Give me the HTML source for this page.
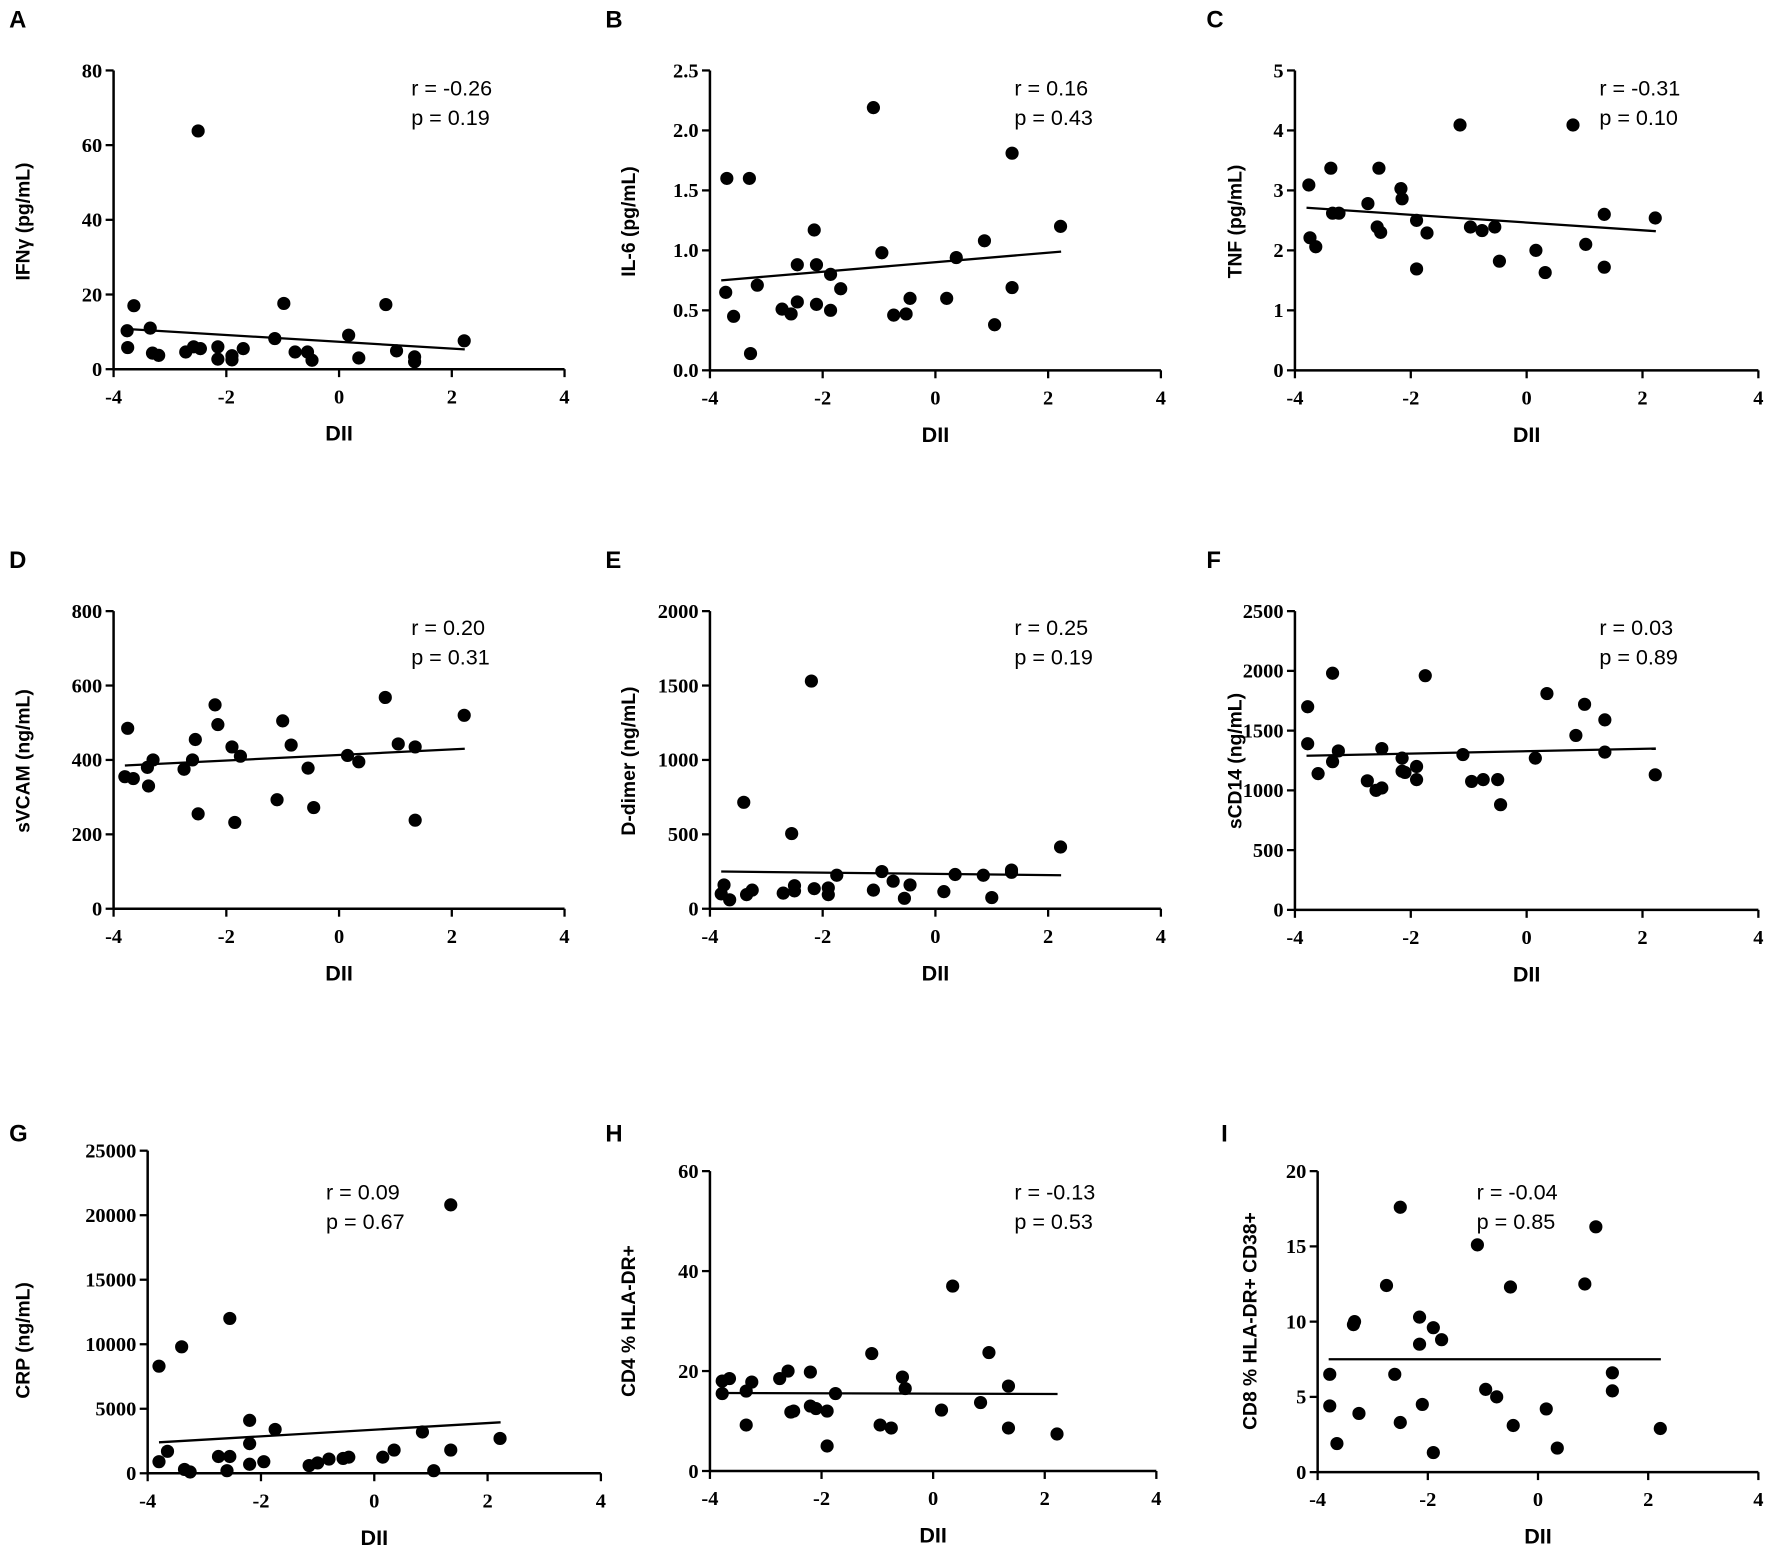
<!DOCTYPE html>
<html><head><meta charset="utf-8">
<style>
html,body{margin:0;padding:0;background:#fff;}
svg{display:block;}
.tick{font-family:"Liberation Serif",serif;font-weight:bold;font-size:18px;}
.ttl{font-family:"Liberation Sans",sans-serif;font-weight:bold;font-size:17px;}
.stat{font-family:"Liberation Sans",sans-serif;font-size:19px;}
.let{font-family:"Liberation Sans",sans-serif;font-weight:bold;font-size:21px;}
</style></head>
<body>
<svg id="fig" width="1772" height="1546" viewBox="0 0 1560 1361" xmlns="http://www.w3.org/2000/svg"></svg>
<script>
const xTicks=[-4,-2,0,2,4];
const aX=[-3.76,-3.75,-3.64,-3.35,-3.31,-3.2,-2.72,-2.58,-2.5,-2.46,-2.15,-2.15,-1.9,-1.9,-1.7,-1.14,-0.98,-0.78,-0.56,-0.48,0.17,0.35,0.83,1.02,1.34,1.34,2.22];
const aY=[10.3,5.8,17,11,4.3,3.7,4.6,6,63.8,5.5,6,2.7,3.6,2.5,5.5,8.2,17.6,4.6,4.6,2.4,9.1,3,17.3,4.9,3.3,2,7.6];
const aFit=[10.8,5.3];
const bX=[-3.72,-3.7,-3.58,-3.3,-3.28,-3.16,-2.72,-2.56,-2.45,-2.45,-2.15,-2.11,-2.11,-1.86,-1.86,-1.68,-1.1,-0.95,-0.74,-0.52,-0.45,0.2,0.37,0.87,1.05,1.36,1.36,2.22];
const bY=[0.65,1.6,0.45,1.6,0.14,0.71,0.51,0.47,0.88,0.57,1.17,0.88,0.55,0.8,0.5,0.68,2.19,0.98,0.46,0.47,0.6,0.6,0.94,1.08,0.38,1.81,0.69,1.2];
const bFit=[0.75,0.99];
const cX=[-3.76,-3.74,-3.64,-3.38,-3.35,-3.24,-2.74,-2.58,-2.55,-2.52,-2.17,-2.15,-1.9,-1.9,-1.72,-1.15,-0.97,-0.77,-0.55,-0.47,0.16,0.32,0.8,1.02,1.34,1.34,2.22];
const cY=[3.09,2.21,2.06,3.37,2.62,2.62,2.78,2.39,3.37,2.3,3.03,2.86,2.5,1.69,2.29,4.09,2.39,2.33,2.39,1.82,2.0,1.63,4.09,2.1,2.6,1.72,2.54];
const cFit=[2.71,2.32];
const dX=[-3.75,-3.8,-3.65,-3.4,-3.38,-3.3,-2.75,-2.6,-2.55,-2.5,-2.2,-2.15,-1.9,-1.85,-1.75,-1.0,-0.85,-0.55,-0.45,-1.1,0.15,0.35,0.82,1.05,1.35,1.35,2.22];
const dY=[485,355,350,380,330,400,375,400,455,255,548,495,435,232,410,505,440,378,272,293,412,395,568,443,435,238,520];
const dFit=[385,430];
const eX=[-3.75,-3.8,-3.65,-3.4,-3.35,-3.25,-2.7,-2.55,-2.5,-2.5,-2.2,-2.15,-1.9,-1.9,-1.75,-1.1,-0.95,-0.75,-0.55,-0.45,0.15,0.35,0.85,1.0,1.35,1.35,2.22];
const eY=[160,100,60,715,95,125,105,505,120,155,1530,135,140,95,225,125,250,185,70,160,115,230,225,75,245,260,415];
const eFit=[250,225];
const fX=[-3.78,-3.78,-3.6,-3.35,-3.35,-3.25,-2.75,-2.6,-2.5,-2.5,-2.15,-2.15,-2.1,-1.9,-1.9,-1.75,-1.1,-0.95,-0.75,-0.5,-0.45,0.15,0.35,0.85,1.0,1.35,1.35,2.22];
const fY=[1700,1390,1140,1980,1240,1330,1080,1000,1350,1020,1270,1160,1150,1200,1090,1960,1300,1075,1090,1090,880,1270,1810,1460,1720,1590,1320,1130];
const fFit=[1290,1350];
const gX=[-3.8,-3.8,-3.65,-3.4,-3.35,-3.25,-2.75,-2.6,-2.55,-2.55,-2.2,-2.2,-2.2,-1.95,-1.75,-1.15,-1.0,-0.8,-0.55,-0.45,0.15,0.35,0.85,1.05,1.35,1.35,2.22];
const gY=[8300,900,1700,9800,300,100,1300,200,1300,12000,4100,2300,700,900,3400,600,800,1100,1150,1250,1250,1800,3200,200,20800,1800,2700];
const gFit=[2400,3950];
const hX=[-3.78,-3.78,-3.65,-3.35,-3.35,-3.25,-2.75,-2.6,-2.55,-2.5,-2.2,-2.2,-2.1,-1.9,-1.9,-1.75,-1.1,-0.95,-0.75,-0.55,-0.5,0.15,0.35,0.85,1.0,1.35,1.35,2.22];
const hY=[18,15.5,18.5,16,9.2,17.8,18.5,20,11.8,12,19.8,13,12.5,12,5,15.5,23.5,9.2,8.6,18.8,16.5,12.2,37,13.7,23.7,17,8.6,7.4];
const hFit=[15.6,15.4];
const iX=[-3.78,-3.78,-3.65,-3.35,-3.33,-3.25,-2.75,-2.6,-2.5,-2.5,-2.15,-2.15,-2.1,-1.9,-1.9,-1.75,-1.1,-0.95,-0.75,-0.5,-0.45,0.15,0.35,0.85,1.05,1.35,1.35,2.22];
const iY=[6.5,4.4,1.9,9.8,10,3.9,12.4,6.5,17.6,3.3,8.5,10.3,4.5,9.6,1.3,8.8,15.1,5.5,5,12.3,3.1,4.2,1.6,12.5,16.3,6.6,5.4,2.9];
const iFit=[7.5,7.5];
const aTicks=[0,20,40,60,80];
const bTicks=[0.0,0.5,1.0,1.5,2.0,2.5];
const cTicks=[0,1,2,3,4,5];
const dTicks=[0,200,400,600,800];
const eTicks=[0,500,1000,1500,2000];
const fTicks=[0,500,1000,1500,2000,2500];
const gTicks=[0,5000,10000,15000,20000,25000];
const hTicks=[0,20,40,60];
const iTicks=[0,5,10,15,20];

const NS="http://www.w3.org/2000/svg";
const fig=document.getElementById('fig');
function mk(tag,attrs,parent,text){const e=document.createElementNS(NS,tag);for(const k in attrs)e.setAttribute(k,attrs[k]);if(text!==undefined)e.textContent=text;parent.appendChild(e);return e;}

const panels=[
 {id:'a',L:'A',x0:100,x1:497,yb:325,yt:62,X:aX,Y:aY,T:aTicks,F:aFit,fmt:0,title:'IFNγ (pg/mL)',tx:20,ty:195,rx:362,ry:78,r:'r = -0.26',p:'p = 0.19',lx:8,ly:24},
 {id:'b',L:'B',x0:625,x1:1022,yb:326,yt:62,X:bX,Y:bY,T:bTicks,F:bFit,fmt:1,title:'IL-6 (pg/mL)',tx:553,ty:195,rx:893,ry:78,r:'r = 0.16',p:'p = 0.43',lx:533,ly:24},
 {id:'c',L:'C',x0:1140,x1:1548,yb:326,yt:62,X:cX,Y:cY,T:cTicks,F:cFit,fmt:0,title:'TNF (pg/mL)',tx:1087,ty:195,rx:1408,ry:78,r:'r = -0.31',p:'p = 0.10',lx:1062,ly:24},
 {id:'d',L:'D',x0:100,x1:497,yb:800,yt:538,X:dX,Y:dY,T:dTicks,F:dFit,fmt:0,title:'sVCAM (ng/mL)',tx:20,ty:670,rx:362,ry:553,r:'r = 0.20',p:'p = 0.31',lx:8,ly:500},
 {id:'e',L:'E',x0:625,x1:1022,yb:800,yt:538,X:eX,Y:eY,T:eTicks,F:eFit,fmt:0,title:'D-dimer (ng/mL)',tx:553,ty:670,rx:893,ry:553,r:'r = 0.25',p:'p = 0.19',lx:533,ly:500},
 {id:'f',L:'F',x0:1140,x1:1548,yb:801,yt:538,X:fX,Y:fY,T:fTicks,F:fFit,fmt:0,title:'sCD14 (ng/mL)',tx:1087,ty:670,rx:1408,ry:553,r:'r = 0.03',p:'p = 0.89',lx:1062,ly:500},
 {id:'g',L:'G',x0:130,x1:529,yb:1297,yt:1013,X:gX,Y:gY,T:gTicks,F:gFit,fmt:0,title:'CRP (ng/mL)',tx:20,ty:1180,rx:287,ry:1050,r:'r = 0.09',p:'p = 0.67',lx:8,ly:1005},
 {id:'h',L:'H',x0:625,x1:1018,yb:1295,yt:1031,X:hX,Y:hY,T:hTicks,F:hFit,fmt:0,title:'CD4 % HLA-DR+',tx:553,ty:1163,rx:893,ry:1050,r:'r = -0.13',p:'p = 0.53',lx:533,ly:1005},
 {id:'i',L:'I',x0:1160,x1:1548,yb:1296,yt:1031,X:iX,Y:iY,T:iTicks,F:iFit,fmt:0,title:'CD8 % HLA-DR+ CD38+',tx:1100,ty:1163,rx:1300,ry:1050,r:'r = -0.04',p:'p = 0.85',lx:1075,ly:1005}
];

panels.forEach(P=>{
 const g=mk('g',{},fig);
 
 
 const ymax=P.T[P.T.length-1], ymin=P.T[0];
 const sx=v=>P.x0+(v-xTicks[0])/(xTicks[xTicks.length-1]-xTicks[0])*(P.x1-P.x0);
 const sy=v=>P.yb-(v-ymin)/(ymax-ymin)*(P.yb-P.yt);
 const lt=mk('text',{x:P.lx,y:P.ly,class:'let'},g,P.L);
 
 
 const ya=mk('line',{x1:P.x0,y1:P.yt,x2:P.x0,y2:P.yb,stroke:'#000','stroke-width':2.2},g);
 
 
 const xa=mk('line',{x1:P.x0,y1:P.yb,x2:P.x1,y2:P.yb,stroke:'#000','stroke-width':2.2},g);
 
 
 P.T.forEach(t=>{
  const y=sy(t);
  mk('line',{x1:P.x0-7,y1:y,x2:P.x0,y2:y,stroke:'#000','stroke-width':2},g);
  const tl=mk('text',{x:P.x0-10,y:y+6,'text-anchor':'end',class:'tick'},g,P.fmt?t.toFixed(P.fmt):String(t));
  
  
 });
 xTicks.forEach(t=>{
  const x=sx(t);
  mk('line',{x1:x,y1:P.yb,x2:x,y2:P.yb+7,stroke:'#000','stroke-width':2},g);
  const tl=mk('text',{x:x,y:P.yb+30,'text-anchor':'middle',class:'tick'},g,String(t));
  
  
 });
 const xt=mk('text',{x:(P.x0+P.x1)/2,y:P.yb+63,'text-anchor':'middle',class:'ttl',style:'font-size:19px'},g,'DII');
 
 
 const yt=mk('text',{x:0,y:0,'text-anchor':'middle',class:'ttl',transform:'translate('+(P.tx+6)+','+P.ty+') rotate(-90)'},g,P.title);
 
 
 const fl=mk('line',{x1:sx(-3.8),y1:sy(P.F[0]),x2:sx(2.23),y2:sy(P.F[1]),stroke:'#000','stroke-width':2},g);
 
 
 P.X.forEach((xv,k)=>{
  const c=mk('circle',{cx:sx(xv),cy:sy(P.Y[k]),r:5.8,fill:'#000'},g);
  
  
 });
 const r=mk('text',{x:P.rx,y:P.ry+6,class:'stat'},g,P.r);
 
 
 const p=mk('text',{x:P.rx,y:P.ry+32,class:'stat'},g,P.p);
 
 
});
</script>
</body></html>
